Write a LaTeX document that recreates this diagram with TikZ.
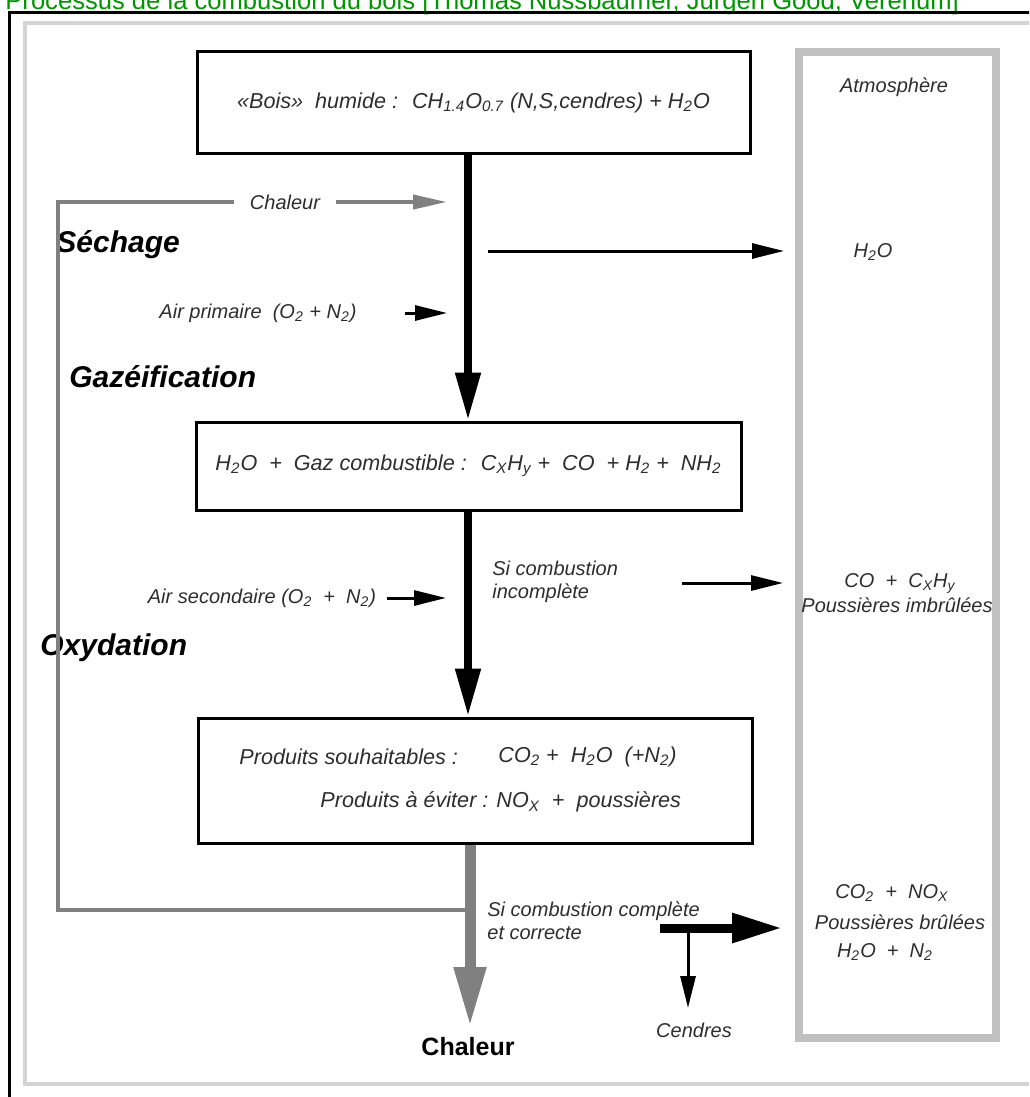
\documentclass[tikz,border=0pt]{standalone}
\usepackage{fontspec}
\setmainfont{Liberation Sans}
\usepackage{tikz}
\usetikzlibrary{arrows.meta}
\usetikzlibrary{positioning}
\definecolor{titlegreen}{RGB}{0,150,0}
\definecolor{txtgray}{RGB}{45,45,45}
\definecolor{framegray}{RGB}{212,212,212}
\definecolor{atmgray}{RGB}{192,192,192}
\definecolor{heatgray}{RGB}{128,128,128}
\newcommand{\sub}[1]{\textsubscript{#1}}
\tikzset{
  box/.style={draw, line width=1.5pt, inner sep=0pt},
  lbl/.style={font=\itshape\fontsize{10}{11.5}\selectfont, text=txtgray, inner sep=0pt},
  boxlbl/.style={font=\itshape\fontsize{10.8}{13}\selectfont, text=txtgray, inner sep=0pt},
  phase/.style={font=\bfseries\itshape\fontsize{15}{18}\selectfont, inner sep=0pt, anchor=west},
  flow/.style={line width=4pt, -{Triangle[length=24pt,width=12pt]}},
  heatflow/.style={heatgray, line width=5.5pt, -{Triangle[length=30pt,width=15pt]}},
  feedline/.style={heatgray, line width=2pt},
  feedtip/.style={heatgray, line width=2pt, -{Triangle[length=17pt,width=7pt]}},
  outflow/.style={line width=1.5pt, -{Triangle[length=16pt,width=7.5pt]}},
  bigout/.style={line width=4.5pt, -{Triangle[length=25pt,width=14pt]}}
}

\begin{document}
\begin{tikzpicture}[x=0.5pt,y=-0.5pt]
    \useasboundingbox (0,0) rectangle (1029,1097);
    \clip (0,0) rectangle (1029,1097);
    % frames
    \node[anchor=base west, inner sep=0pt, text=titlegreen, font=\fontsize{12.8}{14}\selectfont] (title) at (5,9.5) {Processus de la combustion du bois [Thomas Nussbaumer, Jürgen Good, Verenum]};
    \draw[line width=1.5pt] (9.5,1200) -- (9.5,12.5) -- (1200,12.5);
    \draw[framegray, line width=2pt] (1200,23) -- (25,23) -- (25,1084) -- (1200,1084);
    \draw[atmgray, line width=4pt] (799,52) rectangle (996,1038);
    \node[lbl] (atm) at (894,87) {Atmosphère};

    % main chain
    \coordinate (axis) at (468,0);
    \node[box, minimum width=276.5pt, minimum height=50.5pt, boxlbl] (wood) at (473.5,102.5) {«Bois»~ humide :~ CH\sub{1.4}O\sub{0.7} (N,S,cendres) + H\sub{2}O};
    \node[box, minimum width=272.5pt, minimum height=44pt, boxlbl] (gas) at (468.5,466) {H\sub{2}O ~+~ Gaz combustible :~ C\sub{X}H\sub{y} +~ CO ~+ H\sub{2} +~ NH\sub{2}};
    \node[box, minimum width=277pt, minimum height=62.5pt] (prod) at (475,780.5) {};
    \node[boxlbl, anchor=west] (wish) at (239,757) {Produits souhaitables :};
    \node[boxlbl, anchor=west] (wishf) at (498,757) {CO\sub{2} +~ H\sub{2}O~ (+N\sub{2})};
    \node[boxlbl, anchor=west] (avoid) at (320,802) {Produits à éviter : NO\sub{X} ~+~ poussières};

    \draw[flow] (axis |- wood.south) -- (axis |- gas.north);
    \draw[flow] (axis |- gas.south) -- (axis |- prod.north);
    \coordinate (heattip) at (470,1027);
    \draw[heatflow] (heattip |- prod.south) -- (heattip);
    \node[font=\bfseries\fontsize{12.5}{14}\selectfont, inner sep=0pt] (heat) at (468,1047) {Chaleur};

    \node[phase] (sech) at (56,245) {Séchage};
    \node[phase] (gazf) at (69,377) {Gazéification};
    \node[phase] (oxyd) at (40,648) {Oxydation};

    % heat back to drying
    \coordinate (fbstart) at (470,910);
    \coordinate (fbcorner) at (58,202);
    \node[lbl, inner xsep=8pt] (chal) at (285,202) {Chaleur};
    \coordinate (chaltip) at (447,202);
    \draw[feedline] (fbstart) -| (fbcorner) -- (chal.west);
    \draw[feedtip] (chal.east) -- (chaltip);

    % air in
    \node[lbl] (airp) at (258,313) {Air primaire~ (O\sub{2} + N\sub{2})};
    \coordinate (airpS) at (405,313);
    \coordinate (airpE) at (447,313);
    \draw[outflow] (airpS) -- (airpE);
    \node[lbl] (airs) at (262,598) {Air secondaire (O\sub{2} ~+~ N\sub{2})};
    \coordinate (airsS) at (387,598);
    \coordinate (airsE) at (446,598);
    \draw[outflow] (airsS) -- (airsE);

    % to the atmosphere
    \coordinate (vapS) at (488,251);
    \coordinate (vapE) at (784,251);
    \draw[outflow] (vapS) -- (vapE);
    \node[lbl] (vap) at (873,252) {H\sub{2}O};

    \node[lbl, anchor=west, align=left] (incomp) at (492,582) {Si combustion\\incomplète};
    \coordinate (incS) at (682,583);
    \coordinate (incE) at (783,583);
    \draw[outflow] (incS) -- (incE);
    \node[lbl] (unb1) at (900,583) {CO ~+~ C\sub{X}H\sub{y}};
    \node[lbl] (unb2) at (897,605) {Poussières imbrûlées};

    \node[lbl, anchor=west, align=left] (comp) at (487,921) {Si combustion complète\\et correcte};
    \coordinate (compS) at (660,928);
    \coordinate (compE) at (782,928);
    \draw[bigout] (compS) -- (compE);
    \coordinate (ashS) at (688,928);
    \coordinate (ashE) at (688,1008);
    \draw[outflow] (ashS) -- (ashE);
    \node[lbl] (ash) at (694,1030) {Cendres};
    \node[lbl] (brn1) at (892,893) {CO\sub{2} ~+~ NO\sub{X}};
    \node[lbl] (brn2) at (900,922) {Poussières brûlées};
    \node[lbl] (brn3) at (885,952) {H\sub{2}O ~+~ N\sub{2}};
\end{tikzpicture}
\end{document}
